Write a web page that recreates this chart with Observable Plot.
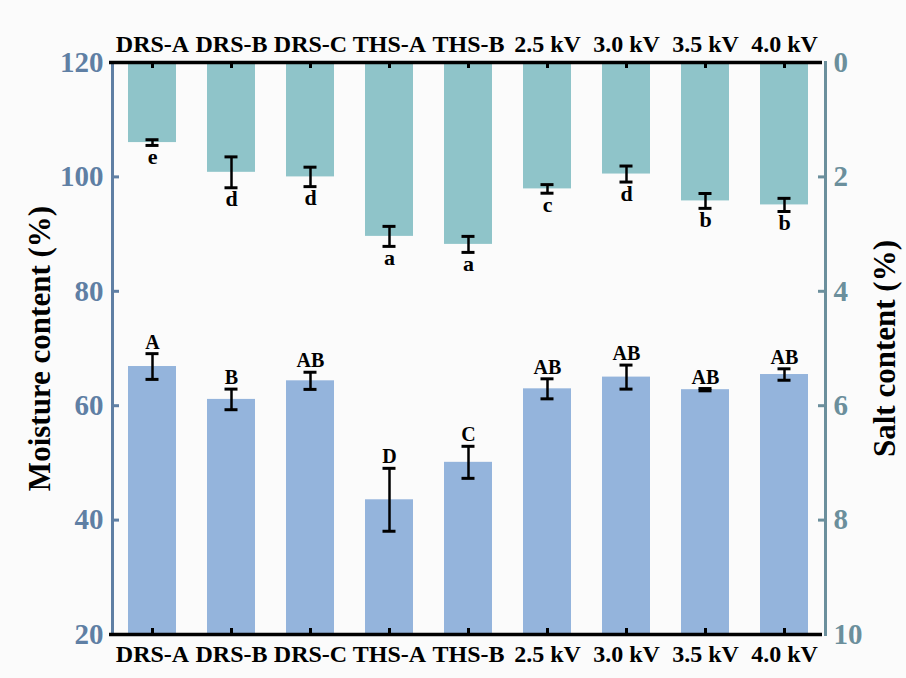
<!DOCTYPE html>
<html>
<head>
<meta charset="utf-8">
<script src="https://cdn.jsdelivr.net/npm/d3@7"></script>
<script src="https://cdn.jsdelivr.net/npm/@observablehq/plot@0.6"></script>
<style>
  html, body { margin: 0; padding: 0; background: #fbfbfb; }
  #wrap { position: relative; width: 906px; height: 678px; }
  #wrap svg { position: absolute; left: 0; top: 0; }
</style>
</head>
<body>
<div id="wrap"></div>
<script>
const categories = ["DRS-A", "DRS-B", "DRS-C", "THS-A", "THS-B", "2.5 kV", "3.0 kV", "3.5 kV", "4.0 kV"];
const moisture = [66.85, 61.1, 64.35, 43.55, 50.1, 62.95, 65.0, 62.8, 65.45];
const moistureErr = [2.25, 1.8, 1.5, 5.5, 2.8, 1.75, 2.1, 0.2, 1.0];
const moistureLetters = ["A", "B", "AB", "D", "C", "AB", "AB", "AB", "AB"];
const salt = [1.40, 1.92, 2.00, 3.04, 3.18, 2.21, 1.95, 2.42, 2.49];
const saltErr = [0.05, 0.27, 0.17, 0.175, 0.14, 0.075, 0.14, 0.13, 0.115];
const saltLetters = ["e", "d", "d", "a", "a", "c", "d", "b", "b"];
const moistureTicks = [20, 40, 60, 80, 100, 120];
const saltTicks = [0, 2, 4, 6, 8, 10];

const W = 906, H = 678, mL = 112, mR = 81, mT = 62, mB = 44;
const innerW = W - mL - mR, innerH = H - mT - mB;
const font = "'Liberation Serif', 'Times New Roman', serif";
const leftColor = "#5f7fa4", rightColor = "#6b8f9c";
const blueBar = "#94b4dc", tealBar = "#8fc4c9";

const mData = categories.map((c, i) => ({cat: c, v: moisture[i], e: moistureErr[i], l: moistureLetters[i]}));
const sData = categories.map((c, i) => ({cat: c, v: salt[i], e: saltErr[i], l: saltLetters[i]}));

const xOpts = {type: "band", domain: categories, paddingInner: 0.39, paddingOuter: 0.2};
const common = {
  width: W, height: H, marginLeft: mL, marginRight: mR, marginTop: mT, marginBottom: mB,
  style: {background: "transparent", fontFamily: font, overflow: "visible"}
};

const plotM = Plot.plot({
  ...common,
  x: {...xOpts, axis: null},
  y: {domain: [20, 120]},
  marks: [
    Plot.barY(mData, {x: "cat", y1: 20, y2: "v", fill: blueBar}),
    Plot.ruleX(mData, {x: "cat", y1: d => d.v - d.e, y2: d => d.v + d.e, stroke: "black", strokeWidth: 2.5}),
    Plot.tickY(mData, {x: "cat", y: d => d.v - d.e, stroke: "black", strokeWidth: 3, insetLeft: 17.5, insetRight: 17.5}),
    Plot.tickY(mData, {x: "cat", y: d => d.v + d.e, stroke: "black", strokeWidth: 3, insetLeft: 17.5, insetRight: 17.5}),
    Plot.text(mData, {x: "cat", y: d => d.v + d.e, text: "l", lineAnchor: "bottom", dy: -5, fontSize: 20, fontWeight: "bold", fill: "black"}),
    Plot.frame({anchor: "left", stroke: leftColor, strokeWidth: 3}),
    Plot.ruleY(moistureTicks.slice(1, -1), {stroke: leftColor, strokeWidth: 3, insetRight: innerW - 7}),
    Plot.axisY({anchor: "left", ticks: moistureTicks, tickSize: 0, tickPadding: 9, fontSize: 29, fontWeight: "bold", fill: leftColor, label: null}),
    Plot.text(["Moisture content (%)"], {frameAnchor: "left", textAnchor: "middle", rotate: -90, dx: -72, fontSize: 31, fontWeight: "bold", fill: "black"})
  ]
});

const plotS = Plot.plot({
  ...common,
  x: xOpts,
  y: {domain: [0, 10], reverse: true},
  marks: [
    Plot.barY(sData, {x: "cat", y1: 0, y2: "v", fill: tealBar}),
    Plot.ruleX(sData, {x: "cat", y1: d => d.v - d.e, y2: d => d.v + d.e, stroke: "black", strokeWidth: 2.5}),
    Plot.tickY(sData, {x: "cat", y: d => d.v - d.e, stroke: "black", strokeWidth: 3, insetLeft: 17.5, insetRight: 17.5}),
    Plot.tickY(sData, {x: "cat", y: d => d.v + d.e, stroke: "black", strokeWidth: 3, insetLeft: 17.5, insetRight: 17.5}),
    Plot.text(sData, {x: "cat", y: d => d.v + d.e, text: "l", lineAnchor: "top", dy: 3, fontSize: 22, fontWeight: "bold", fill: "black"}),
    Plot.ruleY([0, 10], {stroke: "black", strokeWidth: 3.5, insetLeft: -3, insetRight: 3}),
    Plot.ruleX(categories, {x: d => d, stroke: "black", strokeWidth: 3, insetBottom: innerH - 6}),
    Plot.ruleX(categories, {x: d => d, stroke: "black", strokeWidth: 3, insetTop: innerH - 6}),
    Plot.frame({anchor: "right", stroke: rightColor, strokeWidth: 3}),
    Plot.ruleY(saltTicks.slice(1, -1), {stroke: rightColor, strokeWidth: 3, insetLeft: innerW - 7}),
    Plot.axisY({anchor: "right", ticks: saltTicks, tickSize: 0, tickPadding: 8, fontSize: 29, fontWeight: "bold", fill: rightColor, label: null}),
    Plot.axisX({anchor: "top", tickSize: 0, tickPadding: 11, fontSize: 24, fontWeight: "bold", fill: "black", label: null}),
    Plot.axisX({anchor: "bottom", tickSize: 0, tickPadding: 10, fontSize: 24, fontWeight: "bold", fill: "black", label: null}),
    Plot.text(["Salt content (%)"], {frameAnchor: "right", textAnchor: "middle", rotate: -90, dx: 60, fontSize: 31, fontWeight: "bold", fill: "black"})
  ]
});

const wrap = document.getElementById("wrap");
wrap.appendChild(plotM);
wrap.appendChild(plotS);
</script>
</body>
</html>
